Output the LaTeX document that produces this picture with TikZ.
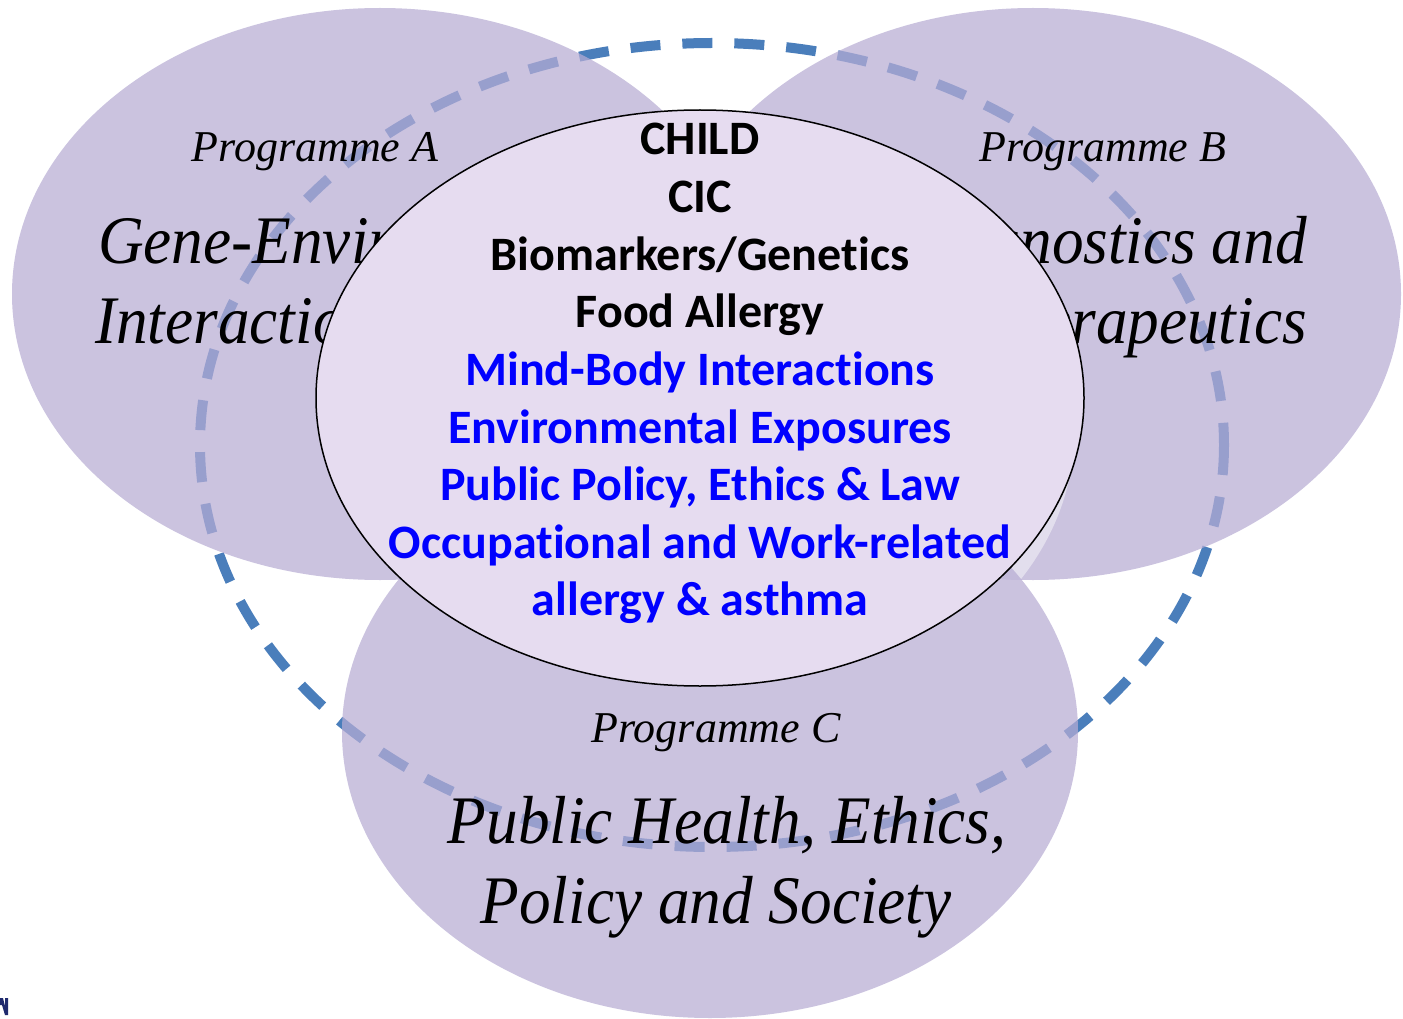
\documentclass[tikz,border=0pt]{standalone}
\usepackage{graphicx}
\usepackage{fontspec}
\setmainfont{Liberation Serif}
\newfontfamily\calfont[Ligatures=NoCommon]{Carlito}

\definecolor{progfill}{HTML}{B7ACD4}
\definecolor{corefill}{HTML}{E6DCF0}
\definecolor{ghostfill}{HTML}{E2DEED}
\definecolor{ringblue}{HTML}{4A7EBB}
\definecolor{topicblue}{HTML}{0000FF}
\definecolor{logonavy}{HTML}{1F2A6E}

\newcommand\squeeze[1]{\scalebox{0.93}[1]{#1}}

\tikzset{
  progellipse/.style={fill=progfill, fill opacity=0.72},
  progtag/.style={font=\itshape\fontsize{44}{52}\selectfont,
                  anchor=base, inner sep=0pt},
  progtitle/.style={font=\itshape\fontsize{68}{80}\selectfont,
                    inner sep=0pt},
  topic/.style={font=\calfont\bfseries\fontsize{48}{57.6}\selectfont,
                anchor=base, inner sep=0pt},
}

\begin{document}
\begin{tikzpicture}[x=1pt, y=-1pt]
    \fill[white] (0,0) rectangle (1403,1019);
    \useasboundingbox (0,0) rectangle (1403,1019);
    % dashed ring, behind the programmes
    \draw[ringblue, line width=10pt,
          dash pattern=on 30pt off 22pt]
          (712,445) ellipse [x radius=512, y radius=402];
    % programmes A, B, C
    \fill[progellipse] (380,294) ellipse [x radius=368, y radius=286];
    \fill[progellipse] (1033,294) ellipse [x radius=368, y radius=286];
    \begin{scope}
        \clip (1033,294) ellipse [x radius=368, y radius=286];
        \fill[ghostfill] (690,433) ellipse [x radius=384, y radius=288];
    \end{scope}
    \fill[progellipse] (710,732) ellipse [x radius=368, y radius=286];
    \node[progtag] (tagA) at (315,162) {Programme A};
    \node[progtag] (tagB) at (1103,162) {Programme B};
    \node[progtag] (tagC) at (716,742) {Programme C};
    \node[progtitle, anchor=base west] (titleA1) at (98,263) {\squeeze{Gene-Environment}};
    \node[progtitle, anchor=base west] (titleA2) at (95,343) {\squeeze{Interactions}};
    \node[progtitle, anchor=base east] (titleB1) at (1307,263) {\squeeze{Diagnostics and}};
    \node[progtitle, anchor=base east] (titleB2) at (1307,343) {\squeeze{Therapeutics}};
    \node[progtitle, anchor=base] (titleC1) at (727,843) {\squeeze{Public Health, Ethics,}};
    \node[progtitle, anchor=base] (titleC2) at (716,923) {\squeeze{Policy and Society}};
    % CHILD core
    \draw[fill=corefill, line width=1.5pt]
          (700,398) ellipse [x radius=384, y radius=288];
    \foreach \txt/\col [count=\i] in {CHILD/black, CIC/black,
          {Biomarkers/Genetics}/black, Food Allergy/black,
          Mind-Body Interactions/topicblue,
          Environmental Exposures/topicblue,
          {Public Policy, Ethics \& Law}/topicblue,
          Occupational and Work-related/topicblue,
          allergy \& asthma/topicblue}
        \node[topic, text=\col] (topic\i) at (700,97.4+57.6*\i) {\txt};
    % logo corner
    \fill[logonavy] (0,998) -- (3,998) -- (5,1006) -- (5,998) -- (8,998)
          -- (8,1015) -- (5,1015) -- (2,1005) -- (0,1005) -- cycle;
\end{tikzpicture}
\end{document}
